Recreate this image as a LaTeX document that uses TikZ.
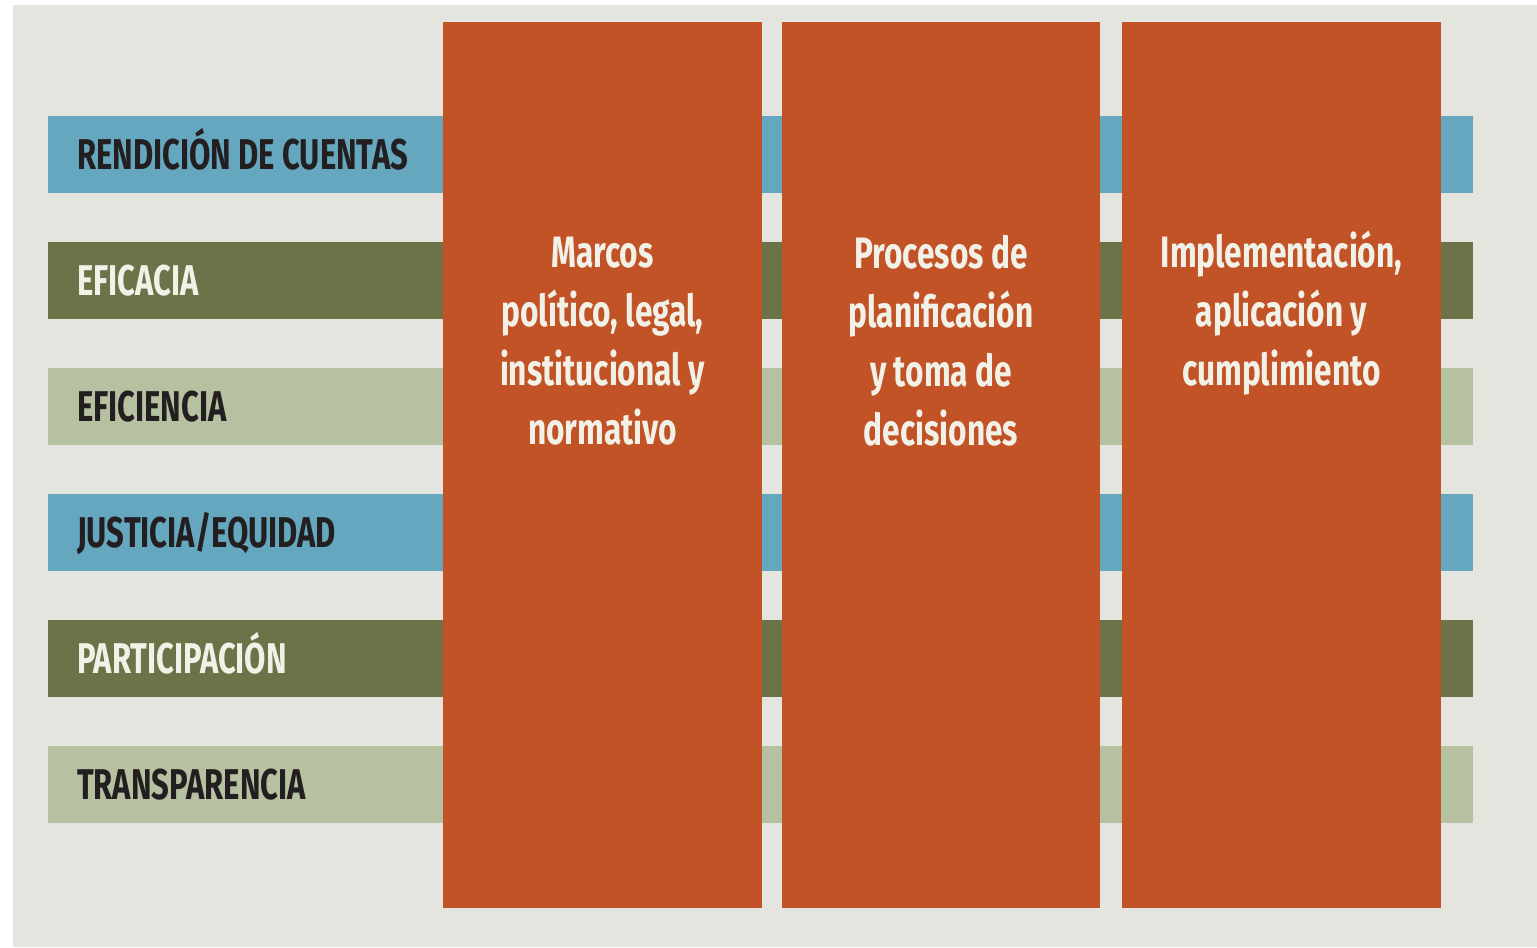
\documentclass[tikz,border=0pt]{standalone}
\usepackage{fontspec}
\setmainfont{Fira Sans}[FakeStretch=0.72]
\definecolor{paper}{HTML}{E4E5DE}
\definecolor{cblue}{HTML}{64A7BF}
\definecolor{colive}{HTML}{6D7249}
\definecolor{csage}{HTML}{B5C1A0}
\definecolor{crust}{HTML}{C25327}
\definecolor{ink}{HTML}{231F20}
\definecolor{chalk}{HTML}{F2F1E8}
\tikzset{
  bar/.style={fill=#1, draw=none, minimum width=28.5cm, minimum height=1.54cm, inner sep=0pt},
  pillar/.style={fill=crust, draw=none, minimum width=6.38cm, minimum height=17.72cm, inner sep=0pt},
  barlabel/.style={text=#1, anchor=base west, inner sep=0pt, font=\fontsize{24.5}{29}\selectfont\bfseries},
  pillarlabel/.style={text=chalk, anchor=north, inner sep=0pt, align=center, font=\fontsize{25}{33.6}\selectfont\bfseries}
}
\begin{document}
\begin{tikzpicture}[x=0.02cm,y=-0.02cm]
	\useasboundingbox (0,0) rectangle (1537,947);
	\fill[paper] (13,5) rectangle (1537,947);
	
	% horizontal bands
	\foreach \i/\c/\tc/\t in {0/cblue/ink/{RENDICIÓN DE CUENTAS}, 1/colive/chalk/{EFICACIA}, 2/csage/ink/{EFICIENCIA}, 3/cblue/ink/{JUSTICIA/EQUIDAD}, 4/colive/chalk/{PARTICIPACIÓN}, 5/csage/ink/{TRANSPARENCIA}}{
		\node[bar=\c] (bar\i) at (760.5,154.5+126*\i) {};
		\node[barlabel=\tc] (lab\i) at ([xshift=0.58cm,yshift=-0.3cm]bar\i.west) {\t};
	}
	
	% vertical pillars
	\node[pillar] (marcos) at (602.5,465) {};
	\node[pillar] (procesos) at (941,465) {};
	\node[pillar] (impl) at (1281.5,465) {};
	
	\node[pillarlabel] (marcostxt) at ([yshift=-4.3cm]marcos.north) {Marcos\\político, legal,\\institucional y\\normativo};
	\node[pillarlabel] (procesostxt) at ([yshift=-4.26cm]procesos.north) {Procesos de\\planificación\\y toma de\\decisiones};
	\node[pillarlabel] (impltxt) at ([yshift=-4.18cm]impl.north) {Implementación,\\aplicación y\\cumplimiento};
\end{tikzpicture}
\end{document}
